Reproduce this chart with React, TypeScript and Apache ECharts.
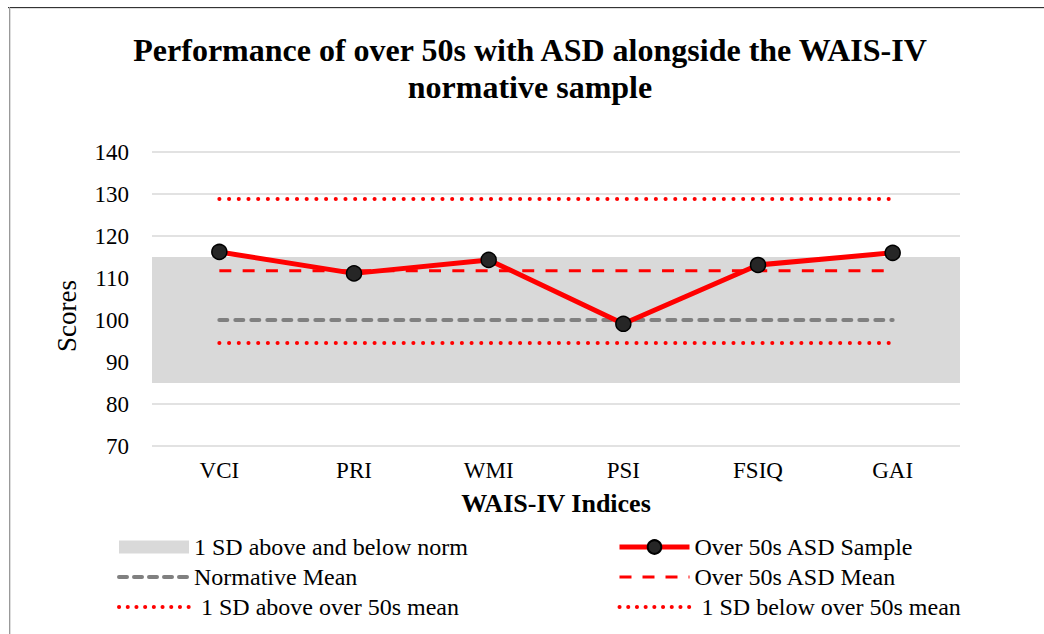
import React, { useEffect, useRef } from "react";
import * as echarts from "echarts";

const categories = ["VCI", "PRI", "WMI", "PSI", "FSIQ", "GAI"];
const sampleScores = [116.2, 111.1, 114.3, 99.1, 113.1, 116.0];
const normativeMean = [100, 100, 100, 100, 100, 100];
const asdMean = [111.7, 111.7, 111.7, 111.7, 111.7, 111.7];
const sdAboveAsd = [128.8, 128.8, 128.8, 128.8, 128.8, 128.8];
const sdBelowAsd = [94.5, 94.5, 94.5, 94.5, 94.5, 94.5];
const normBand = [85, 115];
const yTicks = { min: 70, max: 140, interval: 10 };

const FONT = "Liberation Serif";

export default function App() {
  const ref = useRef<HTMLDivElement>(null);

  useEffect(() => {
    document.body.style.margin = "0";
    if (!ref.current) return;
    const chart = echarts.init(ref.current, null, { renderer: "svg" });

    const legendText = { fontFamily: FONT, fontSize: 24, color: "#000", lineHeight: 24 };
    const noSymbol = { color: "rgba(0,0,0,0)", borderColor: "rgba(0,0,0,0)", borderWidth: 0 };
    const dotted = { color: "#ff0000", width: 4, type: [0.1, 8.6], cap: "round" };

    chart.setOption({
      animation: false,
      backgroundColor: "#fff",
      textStyle: { fontFamily: FONT },
      graphic: [
        { type: "line", shape: { x1: 8, y1: 7.5, x2: 1044, y2: 7.5 }, style: { stroke: "#333", lineWidth: 1 } },
        { type: "line", shape: { x1: 8, y1: 8.5, x2: 1044, y2: 8.5 }, style: { stroke: "#ddd", lineWidth: 1 } },
        { type: "line", shape: { x1: 9.5, y1: 7, x2: 9.5, y2: 634 }, style: { stroke: "#999", lineWidth: 1 } },
        { type: "line", shape: { x1: 10.5, y1: 8, x2: 10.5, y2: 634 }, style: { stroke: "#ddd", lineWidth: 1 } },
        {
          type: "text", x: 530, y: 50,
          style: { text: "Performance of over 50s with ASD alongside the WAIS-IV", fontFamily: FONT, fontSize: 32, fontWeight: "bold", fill: "#000", align: "center", verticalAlign: "middle" },
        },
        {
          type: "text", x: 530, y: 87,
          style: { text: "normative sample", fontFamily: FONT, fontSize: 32, fontWeight: "bold", fill: "#000", align: "center", verticalAlign: "middle" },
        },
        {
          type: "text", x: 67, y: 316, rotation: Math.PI / 2,
          style: { text: "Scores", fontFamily: FONT, fontSize: 27, fill: "#000", align: "center", verticalAlign: "middle" },
        },
      ],
      grid: { left: 152, right: 84, top: 152, bottom: 188, containLabel: false },
      xAxis: {
        type: "category",
        data: categories,
        boundaryGap: true,
        axisLine: { show: false },
        axisTick: { show: false },
        axisLabel: { fontFamily: FONT, fontSize: 23, color: "#000", margin: 13 },
        name: "WAIS-IV Indices",
        nameLocation: "middle",
        nameGap: 44,
        nameTextStyle: { fontFamily: FONT, fontSize: 26, fontWeight: "bold", color: "#000" },
      },
      yAxis: {
        type: "value",
        min: yTicks.min,
        max: yTicks.max,
        interval: yTicks.interval,
        axisLine: { show: false },
        axisTick: { show: false },
        axisLabel: { fontFamily: FONT, fontSize: 23, color: "#000", margin: 23 },
        splitLine: { lineStyle: { color: "#d9d9d9", width: 1.5 } },
      },
      legend: [
        {
          orient: "vertical",
          left: 117,
          top: 535,
          padding: 0,
          itemWidth: 70,
          itemHeight: 13,
          itemGap: 6,
          textStyle: legendText,
          data: [
            { name: "1 SD above and below norm", icon: "rect", itemStyle: { color: "#d9d9d9" } },
            { name: "Normative Mean", itemStyle: noSymbol, lineStyle: { color: "#808080", width: 4, type: [8, 7], cap: "round" } },
            { name: "1 SD above over 50s mean", itemStyle: noSymbol, lineStyle: dotted, textStyle: { padding: [0, 0, 0, 7] } },
          ],
        },
        {
          orient: "vertical",
          left: 617,
          top: 535,
          padding: 0,
          itemWidth: 70,
          itemHeight: 17,
          itemGap: 6,
          textStyle: legendText,
          data: [
            { name: "Over 50s ASD Sample", lineStyle: { color: "#ff0000", width: 5 } },
            { name: "Over 50s ASD Mean", itemStyle: noSymbol, lineStyle: { color: "#ff0000", width: 3, type: [12, 11] } },
            { name: "1 SD below over 50s mean", itemStyle: noSymbol, lineStyle: dotted, textStyle: { padding: [0, 0, 0, 7] } },
          ],
        },
      ],
      series: [
        {
          name: "1 SD above and below norm",
          type: "line",
          data: [],
          z: 1,
          color: "#d9d9d9",
          itemStyle: { color: "#d9d9d9" },
          markArea: {
            silent: true,
            itemStyle: { color: "#d9d9d9", opacity: 1 },
            data: [[{ yAxis: normBand[0] }, { yAxis: normBand[1] }]],
          },
        },
        {
          name: "Normative Mean",
          type: "line",
          data: normativeMean,
          z: 3,
          symbol: "none",
          color: "#808080",
          lineStyle: { color: "#808080", width: 4, type: [8, 8], cap: "round" },
        },
        {
          name: "1 SD above over 50s mean",
          type: "line",
          data: sdAboveAsd,
          z: 3,
          symbol: "none",
          color: "#ff0000",
          lineStyle: { color: "#ff0000", width: 4, type: [0.1, 9.6], cap: "round" },
        },
        {
          name: "Over 50s ASD Mean",
          type: "line",
          data: asdMean,
          z: 3,
          symbol: "none",
          color: "#ff0000",
          lineStyle: { color: "#ff0000", width: 3, type: [12, 11.3] },
        },
        {
          name: "1 SD below over 50s mean",
          type: "line",
          data: sdBelowAsd,
          z: 3,
          symbol: "none",
          color: "#ff0000",
          lineStyle: { color: "#ff0000", width: 4, type: [0.1, 9.6], cap: "round" },
        },
        {
          name: "Over 50s ASD Sample",
          type: "line",
          data: sampleScores,
          z: 5,
          symbol: "circle",
          symbolSize: 15,
          color: "#ff0000",
          lineStyle: { color: "#ff0000", width: 5 },
          itemStyle: { color: "#262626", borderColor: "#000", borderWidth: 1.5 },
        },
      ],
    });

    return () => chart.dispose();
  }, []);

  return <div ref={ref} style={{ width: 1044, height: 634 }} />;
}
